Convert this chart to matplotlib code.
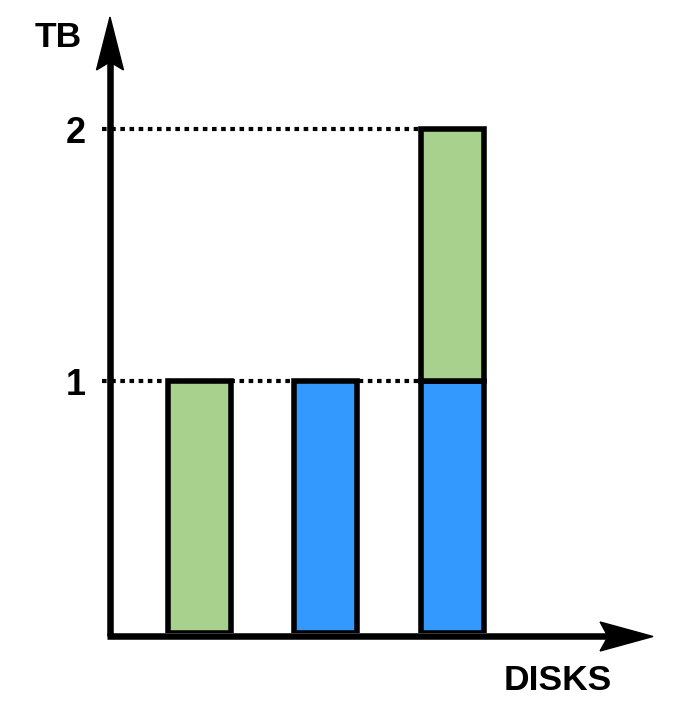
import matplotlib
matplotlib.use("Agg")
import matplotlib.pyplot as plt
from matplotlib.patches import Polygon

plt.rcParams['font.family'] = ['Liberation Sans', 'DejaVu Sans']

# data
disks = [1, 2, 3]
green_tb = [1, 0, 1]     # lower/upper green part
blue_tb = [0, 1, 1]
green_bottom = [0, 0, 1]
ref_levels = [1, 2]
tick_labels = ['1', '2']

GREEN = '#A9D18E'
BLUE = '#3399FF'

fig = plt.figure(figsize=(6.76, 7.12), dpi=100)
ax = fig.add_axes([0.1627, 0.1103, 0.966 - 0.1627, 0.9761 - 0.1103])
x_axis = 0.286
ax.set_xlim(x_axis, 4.595)
ax.set_ylim(0, 2.446)
for s in ax.spines.values():
    s.set_visible(False)
ax.set_xticks([])
ax.set_yticks(ref_levels)
ax.set_yticklabels(tick_labels, fontsize=26, fontweight='bold')
ax.tick_params(axis='y', length=0, pad=17.5)

# dotted reference lines (behind bars)
for lvl in ref_levels:
    ax.plot([x_axis - 0.064, 2.75], [lvl, lvl], color='black', lw=3,
            linestyle=(0, (1.1, 1.1)), dash_capstyle='butt', zorder=1,
            clip_on=False)

# bars
ax.bar(disks, blue_tb, width=0.5, color=BLUE, edgecolor='black',
       linewidth=4, zorder=2)
ax.bar(disks, green_tb, width=0.5, bottom=green_bottom, color=GREEN,
       edgecolor='black', linewidth=4, zorder=2)
# hide zero-height bar outlines
for p in ax.patches:
    if p.get_height() == 0:
        p.set_visible(False)

# axes with stealth arrow heads
lw_axis = 4.7
ax.plot([x_axis, x_axis], [-0.012, 2.3], color='black', lw=lw_axis,
        solid_capstyle='butt', zorder=3, clip_on=False)
ax.plot([x_axis - 0.02, 4.25], [-0.012, -0.012], color='black', lw=lw_axis,
        solid_capstyle='butt', zorder=3, clip_on=False)
ax.add_patch(Polygon([(x_axis, 2.446), (x_axis - 0.107, 2.236),
                      (x_axis, 2.268), (x_axis + 0.107, 2.236)],
                     closed=True, color='black', zorder=4, clip_on=False))
ax.add_patch(Polygon([(4.595, -0.012), (4.175, -0.012 + 0.0575),
                      (4.238, -0.012), (4.175, -0.012 - 0.0575)],
                     closed=True, color='black', zorder=4, clip_on=False))

fig.text(58 / 676, 1 - 37.5 / 712, 'TB', fontsize=25.5, fontweight='bold',
         ha='center', va='center')
fig.text(558 / 676, 1 - 681 / 712, 'DISKS', fontsize=25.5, fontweight='bold',
         ha='center', va='center')

fig.savefig('out.png', dpi=100)
